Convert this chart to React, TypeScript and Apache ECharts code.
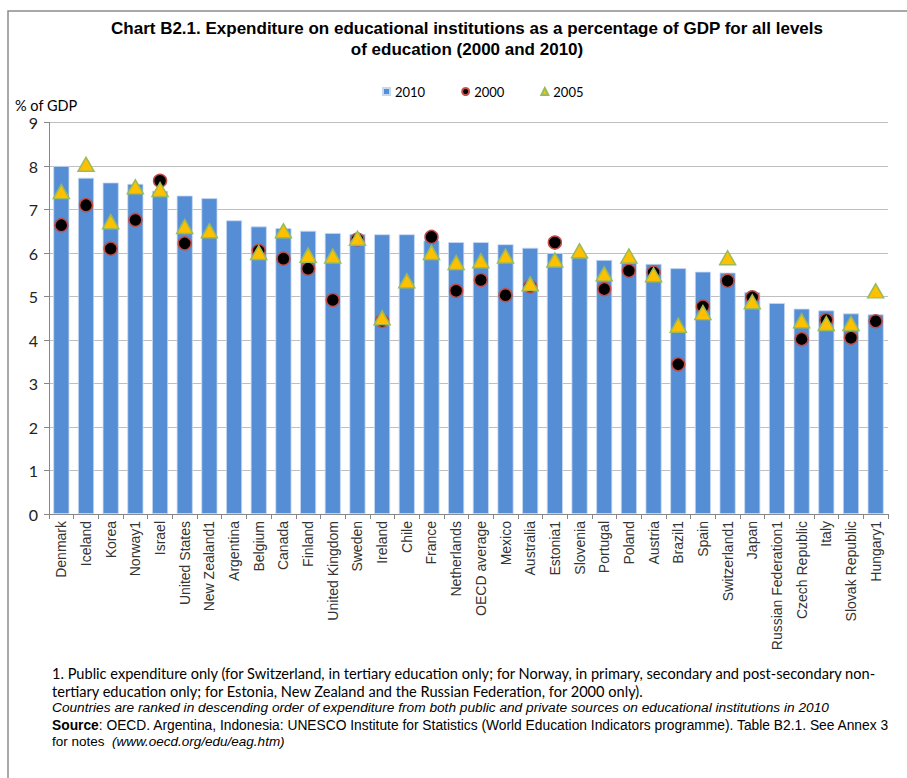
import React, { useEffect, useRef } from "react";
import * as echarts from "echarts";

const categories = [
  "Denmark", "Iceland", "Korea", "Norway1", "Israel", "United States", "New Zealand1",
  "Argentina", "Belgium", "Canada", "Finland", "United Kingdom", "Sweden", "Ireland",
  "Chile", "France", "Netherlands", "OECD average", "Mexico", "Australia", "Estonia1",
  "Slovenia", "Portugal", "Poland", "Austria", "Brazil1", "Spain", "Switzerland1",
  "Japan", "Russian Federation1", "Czech Republic", "Italy", "Slovak Republic", "Hungary1",
];

const values2010 = [
  8.0, 7.73, 7.62, 7.59, 7.43, 7.32, 7.26, 6.75, 6.61, 6.57, 6.51, 6.46, 6.44, 6.43,
  6.43, 6.29, 6.25, 6.25, 6.2, 6.12, 6.0, 5.9, 5.84, 5.78, 5.75, 5.65, 5.57, 5.55,
  5.1, 4.85, 4.72, 4.68, 4.61, 4.59,
];

const values2000 = [
  6.64, 7.1, 6.1, 6.76, 7.66, 6.22, null, null, 6.05, 5.87, 5.64, 4.92, 6.31, 4.44,
  null, 6.37, 5.13, 5.38, 5.03, 5.23, 6.24, null, 5.17, 5.59, 5.55, 3.44, 4.77, 5.36,
  4.98, null, 4.02, 4.46, 4.05, 4.43,
];

const values2005 = [
  7.41, 8.04, 6.72, 7.52, 7.46, 6.61, 6.51, null, 6.01, 6.51, 5.95, 5.93, 6.34, 4.51,
  5.36, 6.01, 5.78, 5.82, 5.93, 5.29, 5.84, 6.05, 5.52, 5.93, 5.5, 4.34, 4.63, 5.89,
  4.88, null, 4.44, 4.38, 4.38, 5.13,
];

const yTicks = { min: 0, max: 9, interval: 1 };

const titleLines = [
  "Chart B2.1. Expenditure on educational institutions as a percentage of GDP for all levels",
  "of education (2000 and 2010)",
];

const yAxisName = "% of GDP";

const noteLines = [
  "1. Public expenditure only (for Switzerland, in tertiary education only; for Norway, in primary, secondary and post-secondary non-",
  "tertiary education only; for Estonia, New Zealand and the Russian Federation, for 2000 only).",
  "Countries are ranked in descending order of expenditure from both public and private sources on educational institutions in 2010",
  ": OECD. Argentina, Indonesia: UNESCO Institute for Statistics (World Education Indicators programme). Table B2.1. See Annex 3",
  "for notes  ",
  "(www.oecd.org/edu/eag.htm)",
];

export default function App() {
  const ref = useRef<HTMLDivElement>(null);
  useEffect(() => {
    if (!ref.current) return;
    const chart = echarts.init(ref.current, null, { renderer: "svg" });
    const calibri = "Lato, 'Open Sans', sans-serif";
    const arial = "'Liberation Sans', Arial, sans-serif";
    chart.setOption({
      animation: false,
      backgroundColor: "#ffffff",
      grid: { left: 49, right: 19, top: 122.5, bottom: 264, containLabel: false },
      legend: {
        left: 377,
        top: 80,
        itemWidth: 7,
        itemHeight: 7,
        itemGap: 36,
        textStyle: { fontFamily: calibri, fontSize: 13, color: "#000" },
        data: [
          { name: "2010", icon: "rect" },
          { name: "2000", icon: "circle" },
          { name: "2005", icon: "triangle" },
        ],
      },
      xAxis: {
        type: "category",
        data: categories,
        axisLine: { lineStyle: { color: "#868686", width: 1 } },
        axisTick: { show: true, length: 5, lineStyle: { color: "#868686" } },
        axisLabel: {
          rotate: 90,
          interval: 0,
          margin: 7,
          fontFamily: arial,
          fontSize: 14,
          color: "#333",
        },
      },
      yAxis: {
        type: "value",
        min: yTicks.min,
        max: yTicks.max,
        interval: yTicks.interval,
        axisLine: { show: true, lineStyle: { color: "#868686", width: 1 } },
        axisTick: { show: true, length: 5, lineStyle: { color: "#868686" } },
        axisLabel: { fontFamily: calibri, fontSize: 16, color: "#222", margin: 11 },
        splitLine: { lineStyle: { color: "#bfbfbf", width: 1.2 } },
      },
      series: [
        {
          name: "2010",
          type: "bar",
          data: values2010,
          barCategoryGap: "35%",
          itemStyle: { color: "#558ED5", borderColor: "#c6d9f1", borderWidth: 0.8 },
        },
        {
          name: "2000",
          type: "scatter",
          data: values2000,
          symbol: "circle",
          symbolSize: 13,
          itemStyle: { color: "#000", borderColor: "#c0504d", borderWidth: 1.5, opacity: 1 },
          z: 3,
        },
        {
          name: "2005",
          type: "scatter",
          data: values2005,
          symbol: "triangle",
          symbolSize: [16, 14],
          itemStyle: { color: "#ffc000", borderColor: "#9bbb59", borderWidth: 1.5, opacity: 1 },
          z: 4,
        },
      ],
      graphic: [
        {
          type: "rect",
          shape: { x: 8, y: 11, width: 1200, height: 1200 },
          style: { fill: "none", stroke: "#8c8c8c", lineWidth: 1.5 },
          silent: true,
        },
        {
          type: "text",
          x: 467,
          y: 28,
          style: {
            text: titleLines[0],
            fontFamily: arial,
            fontWeight: "bold",
            fontSize: 17,
            fill: "#000",
            align: "center",
            verticalAlign: "middle",
          },
        },
        {
          type: "text",
          x: 467,
          y: 49,
          style: {
            text: titleLines[1],
            fontFamily: arial,
            fontWeight: "bold",
            fontSize: 17,
            fill: "#000",
            align: "center",
            verticalAlign: "middle",
          },
        },
        {
          type: "text",
          x: 15,
          y: 105,
          style: {
            text: yAxisName,
            fontFamily: calibri,
            fontSize: 14.5,
            fill: "#000",
            align: "left",
            verticalAlign: "middle",
          },
        },
        {
          type: "text",
          x: 52,
          y: 673,
          style: { text: noteLines[0], fontFamily: calibri, fontSize: 14.6, fill: "#000", verticalAlign: "middle" },
        },
        {
          type: "text",
          x: 52,
          y: 691,
          style: { text: noteLines[1], fontFamily: calibri, fontSize: 14.6, fill: "#000", verticalAlign: "middle" },
        },
        {
          type: "text",
          x: 52,
          y: 707,
          style: {
            text: noteLines[2],
            fontFamily: arial,
            fontStyle: "italic",
            fontSize: 13.7,
            fill: "#000",
            verticalAlign: "middle",
          },
        },
        {
          type: "text",
          x: 52,
          y: 725,
          style: {
            text: "{b|Source}{n|" + noteLines[3] + "}",
            verticalAlign: "middle",
            rich: {
              b: { fontFamily: arial, fontWeight: "bold", fontSize: 13.8, fill: "#000" },
              n: { fontFamily: arial, fontSize: 13.8, fill: "#000" },
            },
          },
        },
        {
          type: "text",
          x: 52,
          y: 741,
          style: {
            text: "{n|" + noteLines[4] + "}{i|" + noteLines[5] + "}",
            verticalAlign: "middle",
            rich: {
              n: { fontFamily: arial, fontSize: 13.5, fill: "#000" },
              i: { fontFamily: arial, fontStyle: "italic", fontSize: 13.5, fill: "#000" },
            },
          },
        },
      ],
    });
    return () => chart.dispose();
  }, []);
  return (
    <div
      ref={ref}
      style={{ position: "absolute", left: 0, top: 0, width: 907, height: 778 }}
    />
  );
}
